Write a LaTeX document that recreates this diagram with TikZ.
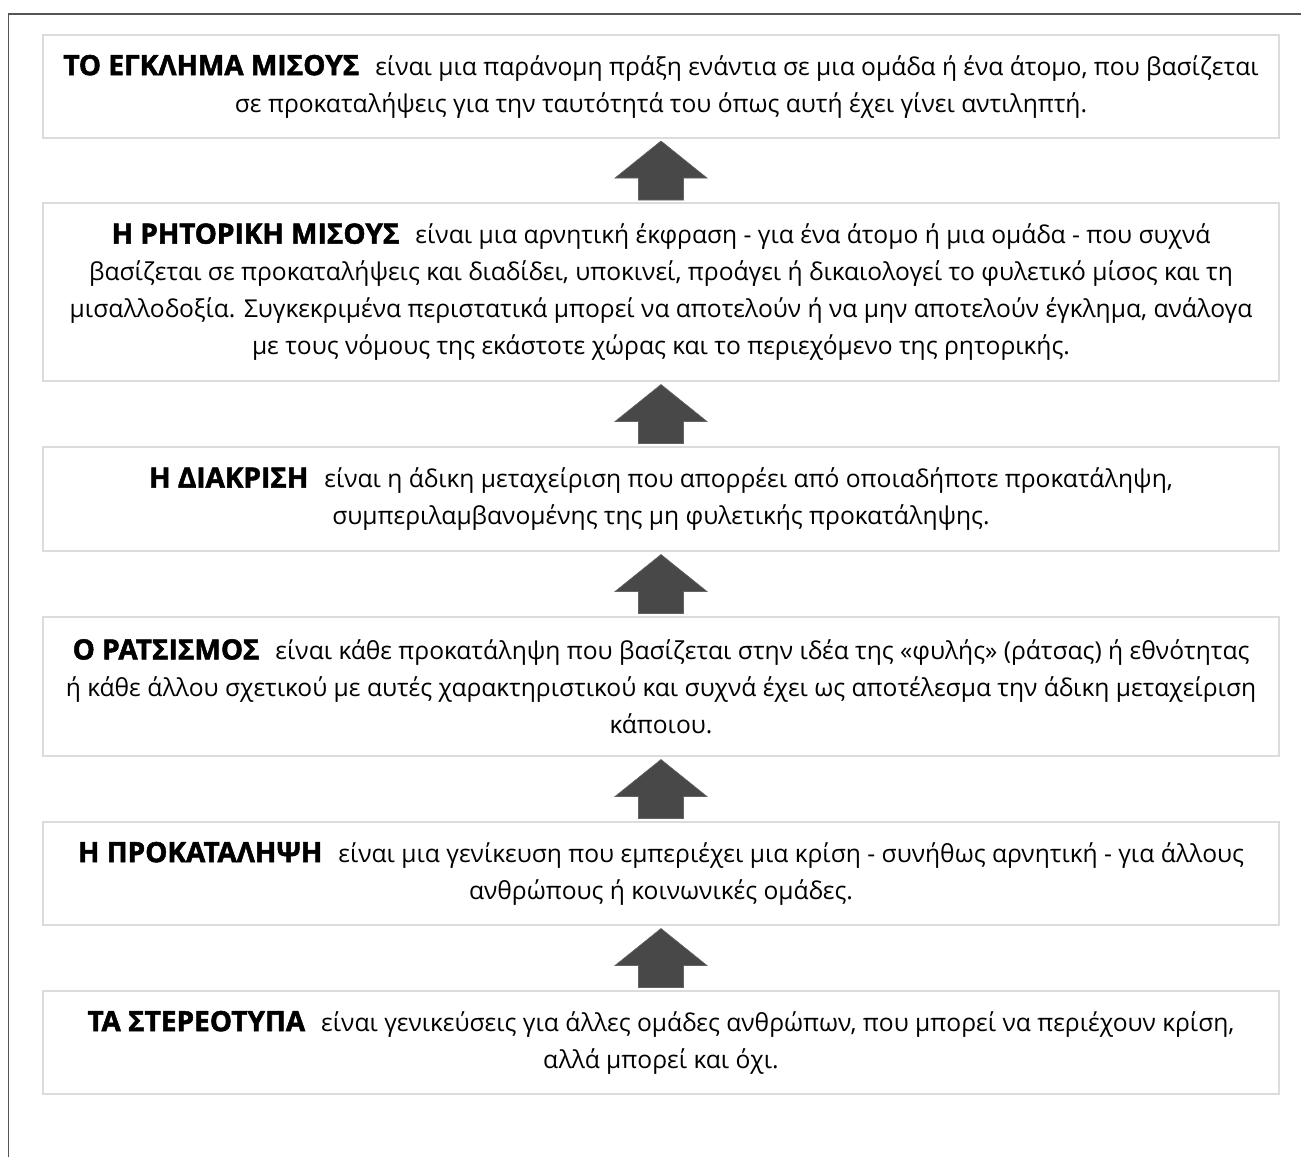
\documentclass[tikz,border=0pt]{standalone}
\usepackage{fontspec}
\setmainfont{Open Sans}
\newfontfamily\headfont{Open Sans}[BoldFeatures={FakeBold=1.8}]
\usetikzlibrary{calc}
\definecolor{framegray}{HTML}{555555}
\definecolor{boxgray}{HTML}{DCDCDC}
\definecolor{arrowgray}{HTML}{484848}
\tikzset{
  defbox/.style={draw=boxgray, line width=1pt, fill=white, minimum width=618pt, align=center, inner sep=0pt, font=\fontsize{12.3}{18.5}\selectfont},
  uparrow/.style={fill=arrowgray, draw=arrowgray!85!white, line width=0.3pt}
}
\newcommand{\term}[1]{{\headfont\bfseries\fontsize{14}{18.5}\selectfont #1}\hspace{0.65em}}

\begin{document}
\begin{tikzpicture}[x=0.5pt,y=-0.5pt]
\useasboundingbox (0,0) rectangle (1301,1157);
\draw[framegray, line width=0.75pt] (1301,14) -- (8.5,14) -- (8.5,1157);
% definitions, from top to bottom
\node[defbox, minimum height=51.5pt] (crime) at (661,86.5) {\term{ΤΟ ΕΓΚΛΗΜΑ ΜΙΣΟΥΣ}είναι μια παράνομη πράξη ενάντια σε μια ομάδα ή ένα άτομο, που βασίζεται\\ σε προκαταλήψεις για την ταυτότητά του όπως αυτή έχει γίνει αντιληπτή.};
\node[defbox, minimum height=89pt] (speech) at (661,292) {\term{Η ΡΗΤΟΡΙΚΗ ΜΙΣΟΥΣ}είναι μια αρνητική έκφραση - για ένα άτομο ή μια ομάδα - που συχνά\\ βασίζεται σε προκαταλήψεις και διαδίδει, υποκινεί, προάγει ή δικαιολογεί το φυλετικό μίσος και τη\\ μισαλλοδοξία. Συγκεκριμένα περιστατικά μπορεί να αποτελούν ή να μην αποτελούν έγκλημα, ανάλογα\\ με τους νόμους της εκάστοτε χώρας και το περιεχόμενο της ρητορικής.};
\node[defbox, minimum height=52pt] (discr) at (661,499) {\term{Η ΔΙΑΚΡΙΣΗ}είναι η άδικη μεταχείριση που απορρέει από οποιαδήποτε προκατάληψη,\\ συμπεριλαμβανομένης της μη φυλετικής προκατάληψης.};
\node[defbox, minimum height=69.5pt] (racism) at (661,686.5) {\term{Ο ΡΑΤΣΙΣΜΟΣ}είναι κάθε προκατάληψη που βασίζεται στην ιδέα της «φυλής» (ράτσας) ή εθνότητας\\ ή κάθε άλλου σχετικού με αυτές χαρακτηριστικού και συχνά έχει ως αποτέλεσμα την άδικη μεταχείριση\\ κάποιου.};
\node[defbox, minimum height=51.5pt] (prej) at (661,873.5) {\term{Η ΠΡΟΚΑΤΑΛΗΨΗ}είναι μια γενίκευση που εμπεριέχει μια κρίση - συνήθως αρνητική - για άλλους\\ ανθρώπους ή κοινωνικές ομάδες.};
\node[defbox, minimum height=51.5pt] (stereo) at (661,1042.5) {\term{ΤΑ ΣΤΕΡΕΟΤΥΠΑ}είναι γενικεύσεις για άλλες ομάδες ανθρώπων, που μπορεί να περιέχουν κρίση,\\ αλλά μπορεί και όχι.};
% block arrows between the boxes
\foreach \lo/\up in {stereo/prej, prej/racism, racism/discr, discr/speech, speech/crime}{
\path ($(\lo.north)!0.5!(\up.south)$) coordinate (m);
\fill[uparrow] ([shift={(0,-29.5)}]m) -- ([shift={(46,7.5)}]m) -- ([shift={(22.5,7.5)}]m) -- ([shift={(22.5,29.5)}]m) -- ([shift={(-22.5,29.5)}]m) -- ([shift={(-22.5,7.5)}]m) -- ([shift={(-46,7.5)}]m) -- cycle;}
\end{tikzpicture}
\end{document}
